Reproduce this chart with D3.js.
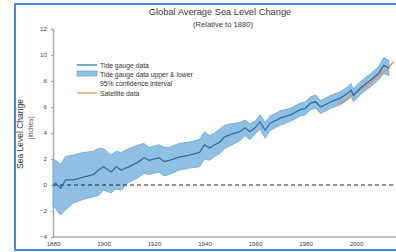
<!DOCTYPE html>
<html>
<head>
<meta charset="utf-8">
<script src="https://cdn.jsdelivr.net/npm/d3@7"></script>
<style>
  body { margin: 0; background: #fff; }
  svg { display: block; font-family: "Liberation Sans", Arial, sans-serif; }
</style>
</head>
<body>
<svg id="chart" width="396" height="252"></svg>
<script>
// --- data (inches, relative to 1880) ---
const years = [1880, 1881, 1883, 1885, 1888, 1892, 1896, 1898, 1900, 1903,
  1905, 1907, 1910, 1914, 1916, 1918, 1922, 1924, 1926, 1930,
  1934, 1938, 1940, 1942, 1944, 1946, 1948, 1950, 1954, 1956,
  1958, 1960, 1962, 1964, 1966, 1970, 1974, 1978, 1980, 1982,
  1984, 1986, 1990, 1994, 1997, 1998, 1999, 2002, 2006, 2009,
  2011, 2013];
const tideGauge = [0, 0.15, -0.25, 0.4, 0.4, 0.6, 0.8, 1.15, 1.4, 1.0,
  1.4, 1.15, 1.4, 1.8, 2.1, 1.9, 2.1, 1.8, 1.9, 2.15,
  2.3, 2.5, 3.1, 2.85, 3.1, 3.3, 3.7, 3.85, 4.1, 4.4,
  4.1, 4.4, 4.85, 4.2, 4.75, 5.15, 5.4, 5.8, 5.9, 6.3,
  6.4, 6.0, 6.4, 6.7, 7.1, 7.3, 6.9, 7.5, 8.1, 8.6,
  9.2, 9.0];
const tideUpper = [2.0, 1.9, 1.6, 2.2, 2.3, 2.5, 2.6, 2.8, 2.8, 2.3,
  2.6, 2.5, 2.8, 3.1, 3.2, 2.9, 3.1, 2.9, 2.9, 3.2,
  3.3, 3.5, 4.1, 3.8, 4.0, 4.3, 4.6, 4.7, 4.8, 5.0,
  4.7, 4.9, 5.4, 4.8, 5.3, 5.7, 5.9, 6.3, 6.4, 6.8,
  6.9, 6.5, 6.9, 7.2, 7.6, 7.8, 7.4, 8.0, 8.6, 9.1,
  9.8, 9.6];
const tideLower = [-1.6, -1.8, -2.3, -1.9, -1.4, -1.1, -0.9, -0.8, -0.4, -0.6,
  -0.3, -0.4, 0.2, 0.6, 0.9, 0.8, 1.0, 0.7, 0.8, 1.15,
  1.3, 1.4, 2.0, 1.9, 2.2, 2.4, 2.8, 3.0, 3.4, 3.8,
  3.5, 3.9, 4.3, 3.6, 4.2, 4.6, 4.9, 5.3, 5.4, 5.8,
  5.9, 5.5, 5.9, 6.2, 6.6, 6.8, 6.4, 7.0, 7.6, 8.1,
  8.6, 8.4];
const satYears = [1993, 1996, 1998, 2000, 2002, 2004, 2006, 2008, 2010, 2012, 2014, 2015];
const satellite = [6.2, 6.5, 6.9, 7.1, 7.4, 7.6, 7.9, 8.2, 8.6, 8.8, 9.3, 9.5];

const xTicks = [1880, 1900, 1920, 1940, 1960, 1980, 2000];
const yTicks = [-4, -2, 0, 2, 4, 6, 8, 10, 12];
const legendLabels = ["Tide gauge data", "Tide gauge data upper & lower", "95% confidence interval", "Satellite data"];

// --- scales ---
const svg = d3.select("#chart");
const x = d3.scaleLinear().domain([1880, 2000]).range([53, 356]);
const y = d3.scaleLinear().domain([-4, 12]).range([237, 29]);

// blue frame
svg.append("path")
  .attr("d", "M396,4 H15 V250 H396")
  .attr("fill", "none")
  .attr("stroke", "#4c82d8")
  .attr("stroke-width", 2);

// titles
svg.append("text").attr("x", 220).attr("y", 15).attr("text-anchor", "middle")
  .attr("font-size", 9.3).attr("fill", "#3a3a3a").text("Global Average Sea Level Change");
svg.append("text").attr("x", 223).attr("y", 27).attr("text-anchor", "middle")
  .attr("font-size", 7.6).attr("fill", "#3a3a3a").text("(Relative to 1880)");

// y label
svg.append("text").attr("transform", "translate(23,134) rotate(-90)").attr("text-anchor", "middle")
  .attr("font-size", 8.5).attr("fill", "#333").text("Sea Level Change");
svg.append("text").attr("transform", "translate(33,128) rotate(-90)").attr("text-anchor", "middle")
  .attr("font-size", 6.5).attr("fill", "#444").text("(inches)");

// axes
const yAxis = svg.append("g").attr("transform", "translate(53,0)")
  .call(d3.axisLeft(y).tickValues(yTicks).tickSize(2).tickPadding(4).tickFormat(d3.format("d")));
const xAxis = svg.append("g").attr("transform", "translate(0,237)")
  .call(d3.axisBottom(x).tickValues(xTicks).tickSize(0).tickPadding(5).tickFormat(d3.format("d")));
xAxis.select(".domain").attr("d", "M53,0H396");
[yAxis, xAxis].forEach(a => {
  a.select(".domain").attr("stroke", "#aaa").attr("stroke-width", 1.5);
  a.selectAll(".tick line").attr("stroke", "#aaa");
  a.selectAll(".tick text").attr("fill", "#444").attr("font-size", 6.2)
    .attr("font-family", "\"Liberation Sans\", Arial, sans-serif");
});

// confidence band
const rows = years.map((yr, i) => ({ yr, v: tideGauge[i], hi: tideUpper[i], lo: tideLower[i] }));
svg.append("path").datum(rows)
  .attr("fill", "#8fc0e3").attr("stroke", "#6aa6d6").attr("stroke-width", 0.8)
  .attr("d", d3.area().x(d => x(d.yr)).y0(d => y(d.lo)).y1(d => y(d.hi)));

// zero line
svg.append("line")
  .attr("x1", x(1880)).attr("x2", 396).attr("y1", y(0)).attr("y2", y(0))
  .attr("stroke", "#222").attr("stroke-width", 1.2).attr("stroke-dasharray", "4,3");

// satellite
svg.append("path").datum(satYears.map((yr, i) => ({ yr, v: satellite[i] })))
  .attr("fill", "none").attr("stroke", "#ef8a4c").attr("stroke-width", 1.3)
  .attr("d", d3.line().x(d => x(d.yr)).y(d => y(d.v)));

// tide gauge line
svg.append("path").datum(rows)
  .attr("fill", "none").attr("stroke", "#2f6ea6").attr("stroke-width", 1.3)
  .attr("d", d3.line().x(d => x(d.yr)).y(d => y(d.v)));

// legend
const lg = svg.append("g").attr("font-size", 6.8).attr("fill", "#333");
lg.append("line").attr("x1", 77).attr("x2", 97).attr("y1", 65).attr("y2", 65)
  .attr("stroke", "#2f7ba6").attr("stroke-width", 1.3);
lg.append("rect").attr("x", 77).attr("y", 71).attr("width", 20).attr("height", 5)
  .attr("fill", "#8fc0e3").attr("stroke", "#6aa6d6").attr("stroke-width", 0.8);
lg.append("line").attr("x1", 77).attr("x2", 97).attr("y1", 93).attr("y2", 93)
  .attr("stroke", "#ef8a4c").attr("stroke-width", 1.3);
[67.5, 76.5, 85.5, 95.5].forEach((ty, i) => {
  lg.append("text").attr("x", 100).attr("y", ty).text(legendLabels[i]);
});
</script>
</body>
</html>
